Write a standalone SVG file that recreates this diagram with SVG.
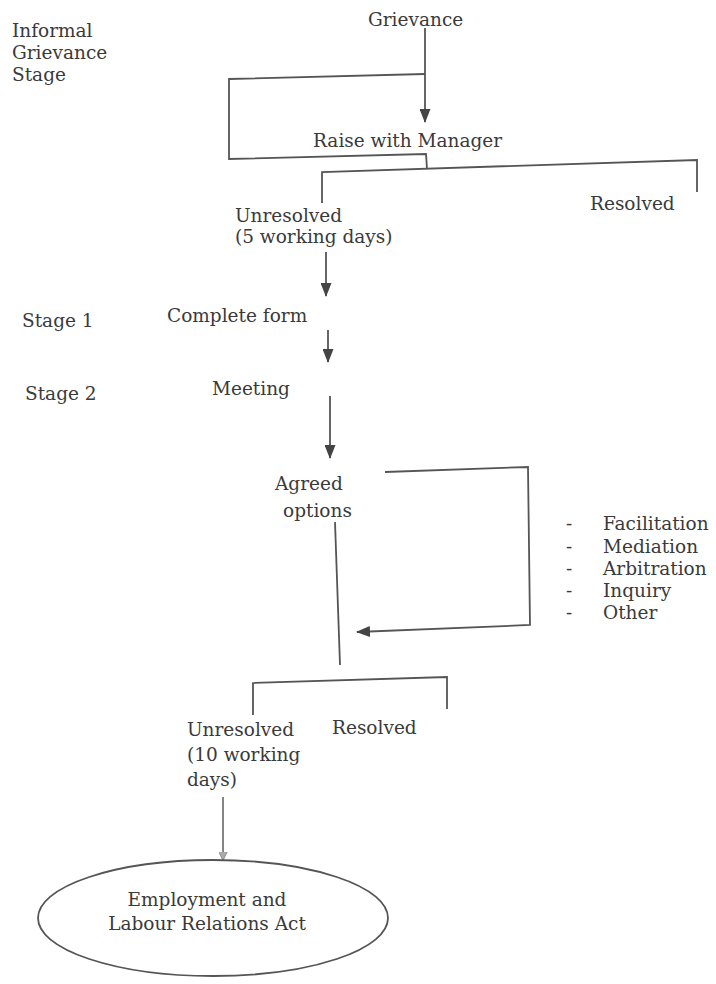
<svg xmlns="http://www.w3.org/2000/svg" width="716" height="984" viewBox="0 0 716 984">
  <style>
    text { font-family: "DejaVu Serif", "Liberation Serif", serif; font-size: 18.5px; fill: #3a3a3a; }
    .ln { fill: none; stroke: #555; stroke-width: 1.8; stroke-linejoin: miter; }
    .arr { marker-end: url(#ah); }
  </style>
  <defs>
    <marker id="ah" markerUnits="userSpaceOnUse" markerWidth="14" markerHeight="11" viewBox="0 0 14 11" refX="13" refY="5.5" orient="auto">
      <path d="M0,0 L14,5.5 L0,11 z" fill="#444"/>
    </marker>
    <marker id="ah2" markerUnits="userSpaceOnUse" markerWidth="9" markerHeight="9" viewBox="0 0 9 9" refX="8.5" refY="4.5" orient="auto">
      <path d="M0,0 L9,4.5 L0,9 z" fill="#aaa" stroke="#888" stroke-width="0.8"/>
    </marker>
  </defs>
  <rect width="716" height="984" fill="#fff"/>

  <g id="connectors">
    <!-- Grievance to Raise with Manager -->
    <path class="ln arr" d="M425,28 L425,122"/>
    <!-- informal loop bracket -->
    <path class="ln" d="M425,74 L229,79 L229,159 L426,154 L427,169"/>
    <!-- split to Unresolved / Resolved -->
    <path class="ln" d="M322,203 L322,172 L697,160 L697,192"/>
    <!-- Unresolved to Complete form -->
    <path class="ln arr" d="M326,252 L326,296"/>
    <!-- Complete form to Meeting -->
    <path class="ln arr" d="M328,330 L328,362"/>
    <!-- Meeting to Agreed options -->
    <path class="ln arr" d="M330,396 L330,458"/>
    <!-- options loop -->
    <path class="ln arr" d="M385,472 L528,467 L530,625 L357,632"/>
    <!-- Agreed options down -->
    <path class="ln" d="M335,522 L340,665"/>
    <!-- second split -->
    <path class="ln" d="M253,715 L253,683 L447,677 L447,709"/>
    <!-- Unresolved to Act -->
    <path class="ln" style="stroke:#777" d="M223,797 L223,860" marker-end="url(#ah2)"/>
  </g>

  <g id="informal-stage-label">
    <text x="12" y="37">Informal</text>
    <text x="12" y="59">Grievance</text>
    <text x="12" y="81">Stage</text>
  </g>
  <g id="grievance"><text x="368" y="26">Grievance</text></g>
  <g id="raise-with-manager"><text x="313" y="147">Raise with Manager</text></g>
  <g id="resolved-1"><text x="590" y="210">Resolved</text></g>
  <g id="unresolved-1">
    <text x="235" y="222">Unresolved</text>
    <text x="235" y="243">(5 working days)</text>
  </g>
  <g id="stage-1-label"><text x="22" y="327">Stage 1</text></g>
  <g id="complete-form"><text x="167" y="322">Complete form</text></g>
  <g id="stage-2-label"><text x="25" y="400">Stage 2</text></g>
  <g id="meeting"><text x="212" y="395">Meeting</text></g>
  <g id="agreed-options">
    <text x="275" y="490">Agreed</text>
    <text x="283" y="517">options</text>
  </g>
  <g id="options-list">
    <text x="566" y="530">-</text><text x="603" y="530">Facilitation</text>
    <text x="566" y="553">-</text><text x="603" y="553">Mediation</text>
    <text x="566" y="575">-</text><text x="603" y="575">Arbitration</text>
    <text x="566" y="597">-</text><text x="603" y="597">Inquiry</text>
    <text x="566" y="619">-</text><text x="603" y="619">Other</text>
  </g>
  <g id="unresolved-2">
    <text x="187" y="736">Unresolved</text>
    <text x="187" y="761">(10 working</text>
    <text x="187" y="786">days)</text>
  </g>
  <g id="resolved-2"><text x="332" y="734">Resolved</text></g>
  <g id="employment-act">
    <ellipse cx="213" cy="918" rx="175" ry="58" fill="none" stroke="#555" stroke-width="1.8"/>
    <text x="207" y="906" text-anchor="middle">Employment and</text>
    <text x="207" y="930" text-anchor="middle">Labour Relations Act</text>
  </g>
</svg>
